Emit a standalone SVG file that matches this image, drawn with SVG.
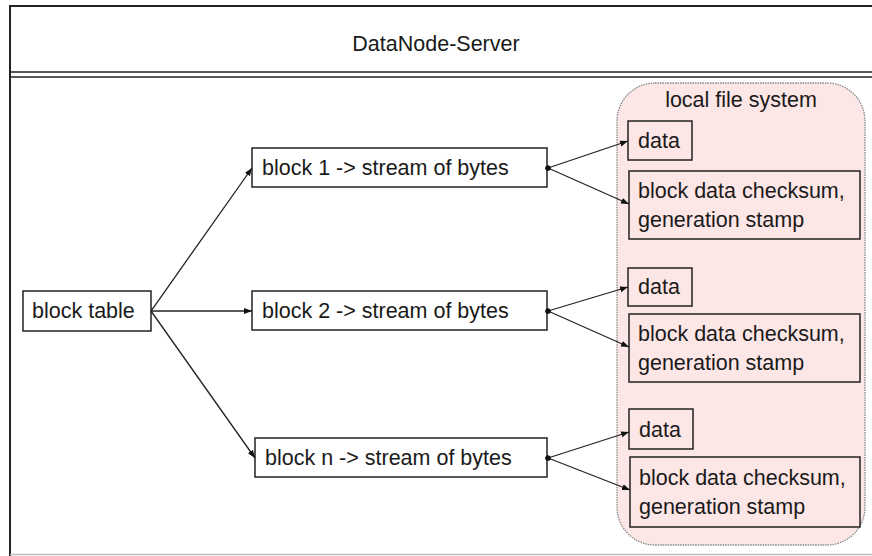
<svg xmlns="http://www.w3.org/2000/svg" width="872" height="556" viewBox="0 0 872 556">
<style>
text{font-family:"Liberation Sans",Arial,sans-serif;font-size:21.5px;fill:#1a1a1a}
.box{fill:#fff;stroke:#222;stroke-width:1.5}
.pbox{fill:#fde6e6;stroke:#222;stroke-width:1.5}
.c{fill:none;stroke:#222;stroke-width:1.3}
</style>
<defs>
<marker id="ah" viewBox="0 0 8 8" refX="8" refY="4" markerWidth="8" markerHeight="8" markerUnits="userSpaceOnUse" orient="auto">
<path d="M0,1 L8,4 L0,7 Z" fill="#111"/>
</marker>
<marker id="dot" viewBox="0 0 6 6" refX="3" refY="3" markerWidth="6" markerHeight="6" markerUnits="userSpaceOnUse">
<circle cx="3" cy="3" r="2.6" fill="#111"/>
</marker>
</defs>
<rect x="0" y="0" width="872" height="556" fill="#fff"/>
<g id="frame">
<line x1="10" y1="6" x2="872" y2="6" stroke="#222" stroke-width="2"/>
<line x1="10" y1="5" x2="10" y2="556" stroke="#222" stroke-width="2"/>
<line x1="10" y1="72" x2="872" y2="72" stroke="#222" stroke-width="1.5"/>
<line x1="10" y1="77" x2="872" y2="77" stroke="#222" stroke-width="1.5"/>
<line x1="10" y1="554.5" x2="872" y2="554.5" stroke="#bbb" stroke-width="1.5"/>
<text x="436" y="51" text-anchor="middle">DataNode-Server</text>
</g>
<g id="lfs">
<rect x="617" y="83" width="248" height="462" rx="38" ry="38" fill="#fde6e6" stroke="#888" stroke-width="1.3" stroke-dasharray="1.5 1"/>
<text x="741" y="107" text-anchor="middle">local file system</text>
</g>
<g id="block-table"><rect class="box" x="23" y="291" width="128" height="40"/><text x="32" y="318">block table</text></g>
<g id="block1"><rect class="box" x="252" y="148" width="295" height="39"/><text x="262" y="175">block 1 -&gt; stream of bytes</text></g>
<g id="block2"><rect class="box" x="252" y="291" width="295" height="39"/><text x="262" y="318">block 2 -&gt; stream of bytes</text></g>
<g id="blockn"><rect class="box" x="255" y="438" width="292" height="39"/><text x="265" y="465">block n -&gt; stream of bytes</text></g>
<g id="data1"><rect class="pbox" x="628" y="121" width="64" height="39"/><text x="638" y="148">data</text></g>
<g id="cs1"><rect class="pbox" x="629" y="171" width="231" height="68"/><text x="638" y="198">block data checksum,</text><text x="638" y="227">generation stamp</text></g>
<g id="data2"><rect class="pbox" x="628" y="268" width="64" height="38"/><text x="638" y="294">data</text></g>
<g id="cs2"><rect class="pbox" x="629" y="314" width="231" height="68"/><text x="638" y="341">block data checksum,</text><text x="638" y="370">generation stamp</text></g>
<g id="data3"><rect class="pbox" x="629" y="409" width="64" height="40"/><text x="639" y="437">data</text></g>
<g id="cs3"><rect class="pbox" x="630" y="457" width="230" height="70"/><text x="639" y="485">block data checksum,</text><text x="639" y="514">generation stamp</text></g>
<g id="connectors">
<line class="c" x1="151" y1="311" x2="252" y2="168" marker-end="url(#ah)"/>
<line class="c" x1="151" y1="311" x2="252" y2="311" marker-end="url(#ah)"/>
<line class="c" x1="151" y1="311" x2="255" y2="458" marker-end="url(#ah)"/>
<line class="c" x1="548" y1="168" x2="628" y2="141" marker-start="url(#dot)" marker-end="url(#ah)"/>
<line class="c" x1="548" y1="168" x2="629" y2="204" marker-start="url(#dot)" marker-end="url(#ah)"/>
<line class="c" x1="548" y1="311" x2="628" y2="287" marker-start="url(#dot)" marker-end="url(#ah)"/>
<line class="c" x1="548" y1="311" x2="629" y2="347" marker-start="url(#dot)" marker-end="url(#ah)"/>
<line class="c" x1="548" y1="458" x2="629" y2="432" marker-start="url(#dot)" marker-end="url(#ah)"/>
<line class="c" x1="548" y1="458" x2="630" y2="490" marker-start="url(#dot)" marker-end="url(#ah)"/>
</g>
</svg>
